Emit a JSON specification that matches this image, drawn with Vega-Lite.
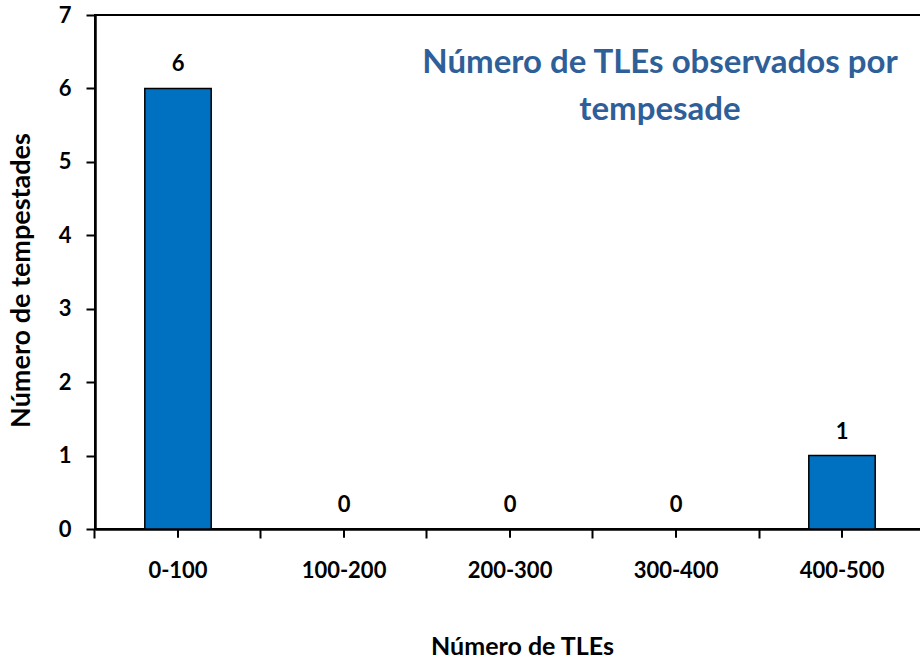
{
  "$schema": "https://vega.github.io/schema/vega-lite/v6.json",
  "width": 830,
  "height": 514,
  "autosize": {"type": "none"},
  "padding": {"left": 95, "top": 15, "right": 0, "bottom": 129},
  "background": "white",
  "config": {
    "font": "Lato",
    "view": {"stroke": "black", "strokeWidth": 2},
    "axis": {"grid": false, "domainColor": "black", "domainWidth": 2.5, "tickColor": "black", "tickWidth": 2, "tickSize": 9,
             "labelFont": "Lato", "labelFontWeight": "bold", "labelColor": "black", "titleFont": "Lato", "titleFontWeight": "bold", "titleColor": "black"}
  },
  "title": {
    "text": ["Número de TLEs observados por", "tempesade"],
    "anchor": "middle",
    "frame": "group",
    "orient": "top",
    "baseline": "top",
    "offset": -123,
    "dx": 150,
    "fontSize": 33,
    "lineHeight": 47,
    "font": "Lato",
    "fontWeight": "bold",
    "color": "#2F5F98"
  },
  "data": {"values": [
    {"faixa": "0-100", "n": 6},
    {"faixa": "100-200", "n": 0},
    {"faixa": "200-300", "n": 0},
    {"faixa": "300-400", "n": 0},
    {"faixa": "400-500", "n": 1}
  ]},
  "encoding": {
    "x": {"field": "faixa", "type": "nominal", "sort": null,
          "scale": {"paddingInner": 0.6, "paddingOuter": 0.3},
          "axis": {"title": "Número de TLEs", "labelAngle": 0, "labelFontSize": 22, "labelPadding": 22, "bandPosition": -0.75, "titleFontSize": 25, "titlePadding": 53, "titleX": 427}}
  },
  "layer": [
    {
      "mark": {"type": "bar", "color": "#0070C0", "stroke": "black", "strokeWidth": 1.5},
      "encoding": {
        "y": {"field": "n", "type": "quantitative", "scale": {"domain": [0, 7]},
              "axis": {"title": "Número de tempestades", "values": [0,1,2,3,4,5,6,7], "format": "d", "labelFontSize": 22, "labelPadding": 15, "titleFontSize": 27, "titlePadding": 23, "titleY": 265}}
      }
    },
    {
      "mark": {"type": "text", "fontSize": 22, "fontWeight": "bold", "font": "Lato", "color": "black", "baseline": "alphabetic", "dy": -17},
      "encoding": {
        "y": {"field": "n", "type": "quantitative"},
        "text": {"field": "n", "type": "quantitative"}
      }
    },
    {
      "mark": {"type": "rule", "color": "black", "strokeWidth": 2, "clip": false},
      "encoding": {
        "y": {"datum": 0},
        "y2": {"datum": -0.12}
      }
    }
  ]
}
